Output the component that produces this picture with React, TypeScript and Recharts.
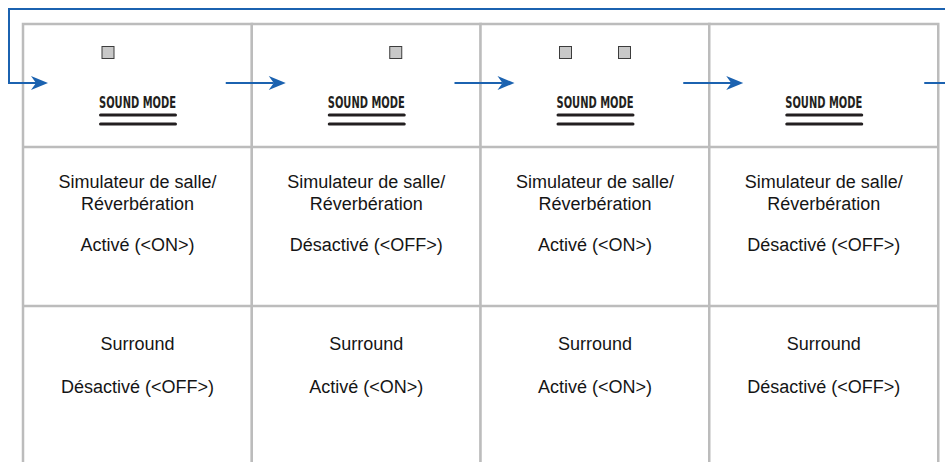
import React from 'react';
import { BarChart, Bar, XAxis, YAxis } from 'recharts';

const steps = ['1', '2', '3', '4'];
const reverbStates = ['Activé (<ON>)', 'Désactivé (<OFF>)', 'Activé (<ON>)', 'Désactivé (<OFF>)'];
const surroundStates = ['Désactivé (<OFF>)', 'Activé (<ON>)', 'Activé (<ON>)', 'Désactivé (<OFF>)'];
const reverbLamp = [true, false, true, false];
const surroundLamp = [false, true, true, false];
const reverbTitle = ['Simulateur de salle/', 'Réverbération'];
const surroundTitle = 'Surround';
const buttonLabel = 'SOUND MODE';

const W = 945;
const H = 462;
const GRID = '#bcbcbc';
const BLUE = '#1b62b0';
const INK = '#231f20';

const data = steps.map((step, i) => ({
    step,
    cell: 1,
    reverb: reverbStates[i],
    surround: surroundStates[i],
    lampL: reverbLamp[i],
    lampR: surroundLamp[i],
}));

const arrowHead = (tx: number, ay: number) =>
    `M${tx},${ay} L${tx - 17},${ay - 7} L${tx - 12},${ay} L${tx - 17},${ay + 7} Z`;

const Cell = (props: any) => {
    const { x, y, width, height, index, payload } = props;
    const cx = x + width / 2;
    const ay = y + 59;
    const last = index === steps.length - 1;
    const txt = { fontFamily: '"Liberation Sans", Arial, sans-serif', fontSize: 18, fill: '#151515', textAnchor: 'middle' as const, dominantBaseline: 'central' as const };

    // arrow coming into this cell
    const tail = index === 0 ? x - 14 : x - 26;
    const tip = index === 0 ? x + 25 : x + 34;

    return (
        <g>
            {/* cell borders */}
            <rect x={x} y={y} width={width} height={height + 10} fill="white" stroke={GRID} strokeWidth={2.5} />
            <line x1={x} x2={x + width} y1={y + 123} y2={y + 123} stroke={GRID} strokeWidth={2.5} />
            <line x1={x} x2={x + width} y1={y + 282} y2={y + 282} stroke={GRID} strokeWidth={2.5} />

            {/* loop line back to the start */}
            <line x1={index === 0 ? x - 14 : x - 1} x2={last ? W : x + width + 1} y1={y - 15} y2={y - 15} stroke={BLUE} strokeWidth={2} />
            {index === 0 && <line x1={x - 14} x2={x - 14} y1={y - 16} y2={ay} stroke={BLUE} strokeWidth={2} />}

            {/* arrows */}
            <line x1={tail - (index === 0 ? 1 : 0)} x2={tip - 12} y1={ay} y2={ay} stroke={BLUE} strokeWidth={2} />
            <path d={arrowHead(tip, ay)} fill={BLUE} />
            {last && <line x1={x + width - 14} x2={W} y1={ay} y2={ay} stroke={BLUE} strokeWidth={2} />}

            {/* lamps */}
            {payload.lampL && <rect x={cx - 35.5} y={y + 22.5} width={12} height={12} fill="#c8c8c8" stroke="#3c3c3c" strokeWidth={1} />}
            {payload.lampR && <rect x={cx + 23.5} y={y + 22.5} width={12} height={12} fill="#c8c8c8" stroke="#3c3c3c" strokeWidth={1} />}

            {/* button */}
            <text x={cx} y={y + 84} textAnchor="middle" fontFamily='"DejaVu Sans Condensed", "DejaVu Sans", sans-serif' fontWeight="bold" fontSize={15} fill={INK} textLength={77} lengthAdjust="spacingAndGlyphs">{buttonLabel}</text>
            <line x1={cx - 37} x2={cx + 38} y1={y + 91} y2={y + 91} stroke={INK} strokeWidth={3} strokeLinecap="round" />
            <line x1={cx - 37} x2={cx + 38} y1={y + 100} y2={y + 100} stroke={INK} strokeWidth={3} strokeLinecap="round" />

            {/* states */}
            <text {...txt} x={cx} y={y + 158}>{reverbTitle[0]}</text>
            <text {...txt} x={cx} y={y + 180}>{reverbTitle[1]}</text>
            <text {...txt} x={cx} y={y + 221}>{payload.reverb}</text>
            <text {...txt} x={cx} y={y + 320}>{surroundTitle}</text>
            <text {...txt} x={cx} y={y + 363}>{payload.surround}</text>
        </g>
    );
};

const App = () => {
    return (
        <div style={{ position: 'absolute', left: 0, top: 0, background: 'white' }}>
            <BarChart
                width={W}
                height={H}
                data={data}
                barCategoryGap={0}
                margin={{ top: 24, right: 7, left: 23, bottom: 0 }}
            >
                <XAxis dataKey="step" hide />
                <YAxis hide domain={[0, 1]} />
                <Bar dataKey="cell" isAnimationActive={false} shape={Cell} />
            </BarChart>
        </div>
    );
};

export default App;
